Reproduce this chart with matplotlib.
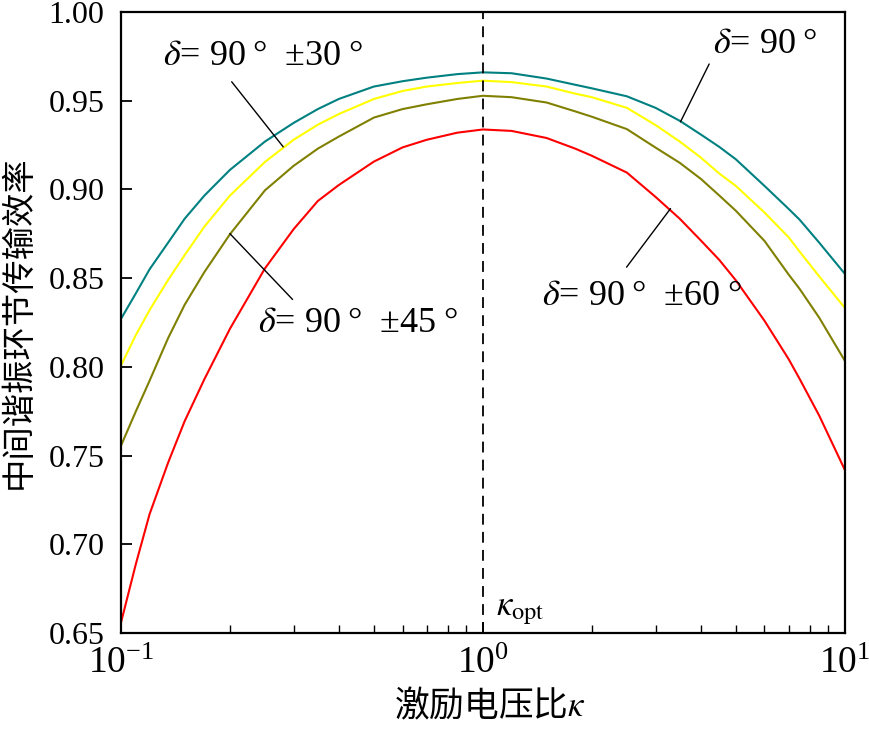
import numpy as np
import matplotlib
matplotlib.use("Agg")
import matplotlib.pyplot as plt

plt.rcParams['mathtext.fontset'] = 'stix'
plt.rcParams['font.family'] = ['Liberation Serif', 'DejaVu Serif']

# excitation voltage ratio
kappa = [0.1, 0.11, 0.12, 0.135, 0.15, 0.17, 0.2, 0.25, 0.3, 0.35, 0.4,
         0.5, 0.6, 0.7, 0.85, 1.0, 1.2, 1.5, 1.8, 2.0, 2.5, 3.0, 3.5,
         4.0, 4.5, 5.0, 6.0, 7.0, 7.5, 8.5, 10.0]

# efficiency of the intermediate resonant stage for each delta
eff_90 = [0.827, 0.8415, 0.855, 0.870, 0.8835, 0.8965, 0.911, 0.927, 0.9375, 0.9453, 0.951,
          0.958, 0.961, 0.963, 0.965, 0.966, 0.9655, 0.9625, 0.959, 0.957, 0.9525, 0.946, 0.9387,
          0.931, 0.924, 0.917, 0.902, 0.889, 0.883, 0.870, 0.8525]
eff_30 = [0.8007, 0.818, 0.832, 0.849, 0.863, 0.879, 0.8965, 0.9155, 0.928, 0.9365, 0.9425,
          0.951, 0.9555, 0.958, 0.960, 0.9613, 0.9605, 0.958, 0.954, 0.952, 0.946, 0.9363, 0.927,
          0.918, 0.909, 0.902, 0.887, 0.873, 0.865, 0.851, 0.8333]
eff_45 = [0.7555, 0.775, 0.7922, 0.8162, 0.835, 0.8534, 0.8747, 0.8995, 0.9133, 0.923, 0.9298,
          0.9405, 0.9453, 0.948, 0.951, 0.9528, 0.952, 0.949, 0.944, 0.941, 0.934, 0.9236, 0.915,
          0.906, 0.8966, 0.888, 0.871, 0.852, 0.844, 0.8277, 0.8035]
eff_60 = [0.6557, 0.689, 0.717, 0.746, 0.7694, 0.793, 0.8214, 0.8555, 0.8776, 0.8935, 0.9025,
          0.9157, 0.9237, 0.928, 0.932, 0.9338, 0.933, 0.929, 0.923, 0.919, 0.9095, 0.8958, 0.8835,
          0.8713, 0.8603, 0.8488, 0.826, 0.8043, 0.7933, 0.7725, 0.742]

fig = plt.figure(figsize=(8.7, 7.29), dpi=100)
ax = fig.add_axes([0.139, 0.1317, 0.832, 0.8518])

ax.plot(kappa, eff_90, color='#008080', lw=1.5)
ax.plot(kappa, eff_30, color='#FFFF00', lw=1.5)
ax.plot(kappa, eff_45, color='#808000', lw=1.5)
ax.plot(kappa, eff_60, color='#FF0000', lw=1.5)
ax.axvline(1.0, color='black', lw=1.3, ls=(0, (6, 4)))

ax.set_xscale('log')
ax.set_xlim(0.1, 10)
ax.set_ylim(0.65, 1.00)
ax.set_yticks(np.arange(0.65, 1.001, 0.05))
ax.set_yticklabels(['0.65', '0.70', '0.75', '0.80', '0.85', '0.90', '0.95', '1.00'])

ax.tick_params(which='major', direction='in', length=8, width=1.3, labelsize=23, pad=12)
ax.tick_params(which='minor', direction='in', length=6, width=1.0)
ax.tick_params(axis='x', which='major', labelsize=27, pad=10)
for s in ax.spines.values():
    s.set_linewidth(1.6)

cjk = ['Noto Sans CJK SC', 'DejaVu Sans']
ax.set_xlabel('激励电压比$\\kappa$', fontsize=25, family=cjk, va='top')
ax.set_ylabel('中间谐振环节传输效率', fontsize=24, family=cjk)
ax.xaxis.set_label_coords(0.51, -0.088)
ax.yaxis.set_label_coords(-0.118, 0.5)

ann = dict(fontsize=26, color='black', ha='left', va='center')
arr = dict(arrowstyle='-', color='black', lw=1.0, shrinkA=0, shrinkB=0)

ax.text(0.1306, 0.9747, '$\\delta$= 90\u2009°  ±30\u2009°', **ann)
ax.annotate('', xy=(0.2808, 0.924), xytext=(0.2023, 0.9607), arrowprops=arr)

ax.text(4.32, 0.9815, '$\\delta$= 90\u2009°', **ann)
ax.annotate('', xy=(3.516, 0.9381), xytext=(4.22, 0.9707), arrowprops=arr)

ax.text(0.239, 0.8244, '$\\delta$= 90\u2009°  ±45\u2009°', **ann)
ax.annotate('', xy=(0.2, 0.8751), xytext=(0.298, 0.838), arrowprops=arr)

ax.text(1.455, 0.8396, '$\\delta$= 90\u2009°  ±60\u2009°', **ann)
ax.annotate('', xy=(3.30, 0.8892), xytext=(2.495, 0.8562), arrowprops=arr)

ax.text(1.085, 0.6535, '$\\kappa_{\\rm opt}$', fontsize=25, ha='left', va='bottom')

fig.savefig('out.png', dpi=100)
